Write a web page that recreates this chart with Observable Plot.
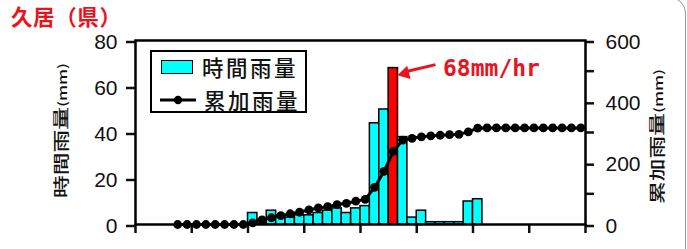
<!DOCTYPE html>
<html><head><meta charset="utf-8">
<script src="https://cdn.jsdelivr.net/npm/d3@7"></script>
<script src="https://cdn.jsdelivr.net/npm/@observablehq/plot@0.6"></script>
<style>
body{margin:0;background:#fff;}
#wrap{position:relative;width:687px;height:249px;overflow:hidden;font-family:"Liberation Sans",Arial,sans-serif;}
#wrap > svg{position:absolute;left:0;top:0;}
.ov{position:absolute;white-space:nowrap;}
#title{left:11px;top:3.5px;height:24px;color:#e8141e;font:700 21.5px/24px "Noto Sans CJK JP",sans-serif;letter-spacing:0.6px;}
.ylab{font:500 16px "Noto Sans CJK JP",sans-serif;color:#111;text-align:center;width:160px;height:20px;line-height:20px;}
.ylab span.in{display:inline-block;transform:scaleX(1.42);}
.ylab small{font-size:12px;}
#legend{left:150px;top:50px;width:153px;height:59px;border:2px solid #000;background:#fff;font:500 21.5px "Noto Sans CJK JP",sans-serif;color:#111;}
#legend .row{position:absolute;left:0;height:24px;display:flex;align-items:center;}
#legend .t{letter-spacing:2.5px;line-height:22px;height:22px;display:inline-block;}
#border{left:-40px;top:-3px;width:724px;height:300px;border:1.5px solid #999;border-radius:16px;}
</style></head><body>
<div id="wrap"></div>
<script>
// hourly rainfall (mm/hr), bar for hour h spans [h, h+1]
const barHours = [12,13,14,15,16,17,18,19,20,21,22,23,24,25,26,27,28,29,30,31,32,33,34,35,36];
const hourlyRain = [5,2,6,4,3,4,4,5,6,7,5,7,8,44,50,68,38,3,6,1,1,1,1,10,11];
// cumulative rainfall (mm), plotted at hour centers
const cumHours = [4,5,6,7,8,9,10,11,12,13,14,15,16,17,18,19,20,21,22,23,24,25,26,27,28,29,30,31,32,33,34,35,36,37,38,39,40,41,42,43,44,45,46,47];
const cumRain = [0,0,0,0,0,0,0,0,5,15,22,29,35,40,48,54,58,65,69,76,82,121,173,238,275,281,286,289,291,293,294,302,314,315,315,315,315,315,315,315,315,315,315,315];
const leftTicks = [0,20,40,60,80];
const rightTicks = [0,200,400,600];
const rightMinorTicks = [100,300,500];
const xTicks = [0,6,12,18,24,30,36,42,48];
const titleText = "久居（県）";
const leftLabel = ["時間雨量","(mm)"];
const rightLabel = ["累加雨量","(mm)"];
const legendLabels = ["時間雨量","累加雨量"];

const R = 600/80; // right axis / left axis ratio
const bars = barHours.map((h,i)=>({h, v: hourlyRain[i]}));
const cum = cumHours.map((h,i)=>({h, c: cumRain[i]}));
const peakVal = d3.max(hourlyRain);
const peakHour = barHours[hourlyRain.indexOf(peakVal)];
const ann = [{h: peakHour, v: peakVal}];

const plot = Plot.plot({
  width: 687, height: 249,
  marginLeft: 135, marginRight: 102, marginTop: 40, marginBottom: 25,
  x: {domain: [0,48]},
  y: {domain: [0,80]},
  style: {fontFamily: '"Liberation Sans", Arial, sans-serif', fontSize: "21px", color: "#111", background: "transparent"},
  marks: [
    Plot.rectY(bars, {x1: "h", x2: d => d.h + 1, y: "v",
      fill: d => d.v === peakVal ? "#ff0000" : "#00ffff", stroke: "#000", strokeWidth: 1.5}),
    Plot.line(cum, {x: d => d.h + 0.5, y: d => d.c / R, stroke: "#000", strokeWidth: 3}),
    Plot.dot(cum, {x: d => d.h + 0.5, y: d => d.c / R, r: 4.4, fill: "#000", stroke: "none"}),
    Plot.axisY(leftTicks, {anchor: "left", tickSize: 9, tickPadding: 9, dy: 1.5, strokeWidth: 2.5, label: null}),
    Plot.axisY(rightTicks.map(v => v / R), {anchor: "right", tickSize: 8, tickPadding: 12, dy: 1.5, strokeWidth: 2.5, label: null, tickFormat: d => Math.round(d * R)}),
    Plot.axisY(rightMinorTicks.map(v => v / R), {anchor: "right", tickSize: 8, strokeWidth: 2.5, label: null, tickFormat: () => ""}),
    Plot.axisX(xTicks, {anchor: "bottom", tickSize: 9, strokeWidth: 2.5, label: null, tickFormat: () => ""}),
    Plot.frame({stroke: "#000", strokeWidth: 2.5}),
    // annotation for the peak hour
    Plot.link(ann, {x1: d => d.h + 5, y1: d => d.v + 1.5, x2: d => d.h + 1.9, y2: d => d.v - 1.5, stroke: "#e8141e", strokeWidth: 3}),
    Plot.dot(ann, {x: d => d.h + 1.75, y: d => d.v - 2.3, symbol: "triangle2", r: 6.5, rotate: -104, fill: "#e8141e", stroke: "none"}),
    Plot.text(ann, {x: d => d.h + 1, y: d => d.v, dx: 45, dy: 1, text: d => `${d.v}mm/hr`, textAnchor: "start",
      fill: "#e8141e", fontSize: 23, fontWeight: "bold", fontFamily: '"DejaVu Sans Mono", monospace'})
  ]
});
const wrap = document.getElementById("wrap");
wrap.appendChild(plot);

function add(html){ wrap.insertAdjacentHTML("beforeend", html); }
add(`<div class="ov" id="border"></div>`);
add(`<div class="ov" id="title">${titleText}</div>`);
add(`<div class="ov ylab" style="left:${60-80}px;top:${130-10}px;transform:rotate(-90deg)"><span class="in">${leftLabel[0]}<small>${leftLabel[1]}</small></span></div>`);
add(`<div class="ov ylab" style="left:${656-80}px;top:${136-10}px;transform:rotate(-90deg)"><span class="in">${rightLabel[0]}<small>${rightLabel[1]}</small></span></div>`);
add(`<div class="ov" id="legend">
  <div class="row" style="top:3px;left:9px;"><span style="display:inline-block;width:30px;height:12px;background:#00ffff;border:1.5px solid #000;margin-right:9px;"></span><span class="t">${legendLabels[0]}</span></div>
  <div class="row" style="top:36px;left:8px;"><svg width="36" height="14" style="margin-right:8px;"><line x1="0" y1="7" x2="36" y2="7" stroke="#000" stroke-width="3"/><circle cx="18" cy="7" r="4.2" fill="#000"/></svg><span class="t">${legendLabels[1]}</span></div>
</div>`);
</script>
</body></html>
